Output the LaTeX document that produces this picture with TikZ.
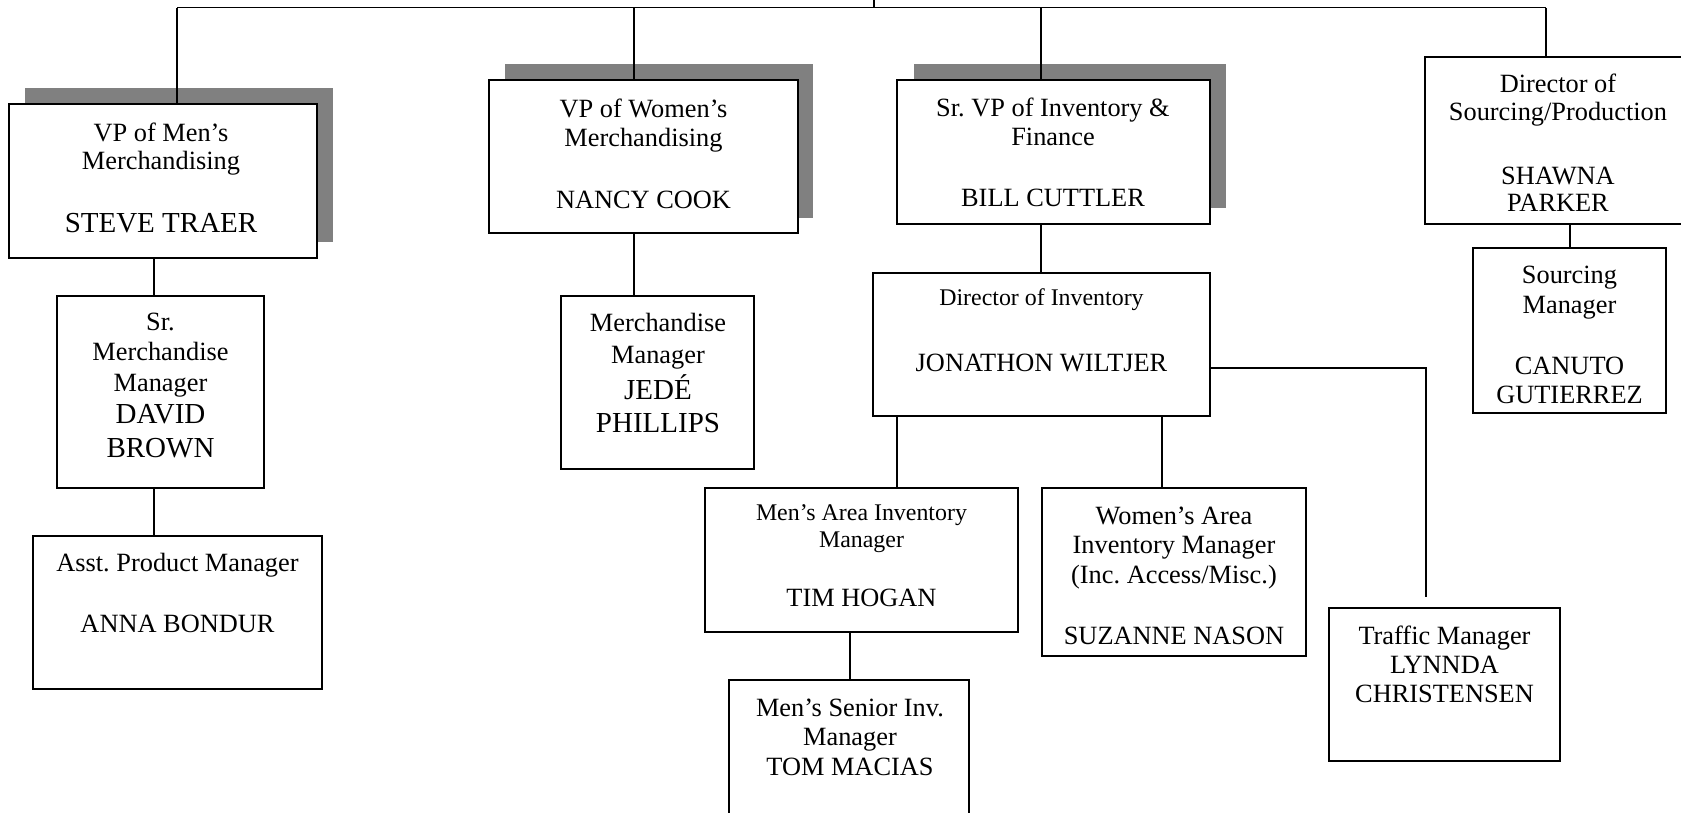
\documentclass[tikz,border=0pt]{standalone}
\usepackage{fontspec}
\setmainfont{Liberation Serif}
\usetikzlibrary{fit}
\frenchspacing

\newcommand{\smalltitle}{\fontsize{13.6}{15}\selectfont}
\newcommand{\bigname}{\fontsize{16.5}{17}\selectfont}

\tikzset{
    orgbox/.style={draw, fill=white, inner sep=0pt},
    boxshadow/.style={fill=gray},
    boxtext/.style={anchor=north, align=center, inner sep=0pt, font=\fontsize{15}{17}\selectfont},
}

\begin{document}
\begin{tikzpicture}[x=0.02cm, y=-0.02cm, line width=1.1pt]
        \useasboundingbox (0,0) rectangle (1681,812);
        \clip (0,0) rectangle (1681,812);

        % shadows of the three VP boxes
        \fill[boxshadow] (25,88) rectangle (333,242);
        \fill[boxshadow] (505,64) rectangle (813,218);
        \fill[boxshadow] (914,64) rectangle (1226,208);

        % boxes
        \node[orgbox, fit={(9,104) (317,258)}] (vpmen) {};
        \node[orgbox, fit={(489,80) (798,233)}] (vpwomen) {};
        \node[orgbox, fit={(897,80) (1210,224)}] (srvp) {};
        \node[orgbox, fit={(1425,57) (1691,224)}] (dirsrc) {};
        \node[orgbox, fit={(57,296) (264,488)}] (srmerch) {};
        \node[orgbox, fit={(33,536) (322,689)}] (asst) {};
        \node[orgbox, fit={(561,296) (754,469)}] (merchmgr) {};
        \node[orgbox, fit={(873,273) (1210,416)}] (dirinv) {};
        \node[orgbox, fit={(1473,248) (1666,413)}] (srcmgr) {};
        \node[orgbox, fit={(705,488) (1018,632)}] (mensarea) {};
        \node[orgbox, fit={(1042,488) (1306,656)}] (womensarea) {};
        \node[orgbox, fit={(1329,608) (1560,761)}] (traffic) {};
        \node[orgbox, fit={(729,680) (969,840)}] (mensenior) {};

        % texts
        \node[boxtext] (vpmen-t) at (161,122) {VP of Men's\\[-1pt]Merchandising\\[19pt]{\bigname STEVE TRAER}};
        \node[boxtext] (vpwomen-t) at (643.5,97.5) {VP of Women's\\[-0.5pt]Merchandising\\[18.3pt]NANCY COOK};
        \node[boxtext] (srvp-t) at (1053,96.5) {Sr. VP of Inventory \&\\Finance\\[17.7pt]BILL CUTTLER};
        \node[boxtext] (dirsrc-t) at (1558,72.5) {Director of\\[-1pt]Sourcing/Production\\[19.5pt]SHAWNA\\[-1.6pt]PARKER};
        \node[boxtext] (srmerch-t) at (160.5,312) {Sr.\\Merchandise\\[0.6pt]Manager\\[1.5pt]{\bigname DAVID}\\[2.3pt]{\bigname BROWN}};
        \node[boxtext] (asst-t) at (177.5,552) {Asst. Product Manager\\[17.7pt]ANNA BONDUR};
        \node[boxtext] (merchmgr-t) at (658,312) {Merchandise\\[1.5pt]Manager\\[1.8pt]{\bigname JEDÉ}\\[1.8pt]{\bigname PHILLIPS}};
        \node[boxtext] (dirinv-t) at (1041.5,287.5) {{\smalltitle Director of Inventory}\\[20.8pt]JONATHON WILTJER};
        \node[boxtext] (srcmgr-t) at (1569.5,265) {Sourcing\\Manager\\[17.7pt]CANUTO\\[-0.5pt]GUTIERREZ};
        \node[boxtext] (mensarea-t) at (861.5,504) {{\smalltitle Men's Area Inventory}\\[-1.6pt]{\smalltitle Manager}\\[16.4pt]TIM HOGAN};
        \node[boxtext] (womensarea-t) at (1174,505.5) {Women's Area\\Inventory Manager\\[-0.2pt](Inc. Access/Misc.)\\[18pt]SUZANNE NASON};
        \node[boxtext] (traffic-t) at (1444.5,624.5) {Traffic Manager\\LYNNDA\\[-0.5pt]CHRISTENSEN};
        \node[boxtext] (mensenior-t) at (850,698) {Men's Senior Inv.\\[-0.5pt]Manager\\TOM MACIAS};

        % top bus
        \coordinate (rootup) at (874,-5);
        \coordinate (root) at (874,7.5);
        \coordinate (busL) at (177,7.5);
        \coordinate (busW) at (634,7.5);
        \coordinate (busI) at (1041,7.5);
        \coordinate (busR) at (1546,7.5);
        \draw (rootup) -- (root);
        \draw (busL) -- (busR);
        \draw (busL) -- (vpmen.north -| busL);
        \draw (busW) -- (vpwomen.north -| busW);
        \draw (busI) -- (srvp.north -| busI);
        \draw (busR) -- (dirsrc.north -| busR);

        % reports
        \draw (vpmen.south -| 154,0) -- (srmerch.north -| 154,0);
        \draw (srmerch.south -| 154,0) -- (asst.north -| 154,0);
        \draw (vpwomen.south -| busW) -- (merchmgr.north -| busW);
        \draw (srvp.south -| busI) -- (dirinv.north -| busI);
        \draw (dirsrc.south -| 1570,0) -- (srcmgr.north -| 1570,0);
        \draw (dirinv.south -| 897,0) -- (mensarea.north -| 897,0);
        \draw (dirinv.south -| 1162,0) -- (womensarea.north -| 1162,0);
        \draw (mensarea.south -| 850,0) -- (mensenior.north -| 850,0);
        \coordinate (trafficin) at (1426,597);
        \draw (dirinv.east |- 0,368) -| (trafficin);

\end{tikzpicture}
\end{document}
